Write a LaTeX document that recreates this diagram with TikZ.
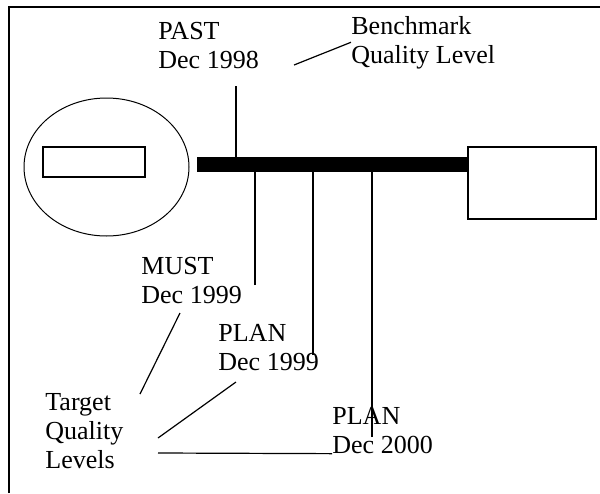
\documentclass[tikz,border=0pt]{standalone}
\usepackage{fontspec}
\setmainfont{Liberation Serif}
\usetikzlibrary{positioning,shapes.geometric}

\begin{document}
\begin{tikzpicture}[x=0.5pt, y=-0.5pt, font=\fontsize{13}{14.5}\selectfont, lbl/.style={align=left, inner sep=0pt, anchor=base west}, box/.style={draw, line width=0.6pt, inner sep=0pt}, lead/.style={line width=0.6pt}]
		\useasboundingbox (0,0) rectangle (600,493);
		\draw[line width=1.1pt] (9,493) -- (9,7) -- (600,7);
		\node[box, ellipse, line width=0.5pt, minimum width=82.5pt, minimum height=69pt] (oval) at (106.5,167) {};
		\node[box, minimum width=51pt, minimum height=15pt] (slot) at (94,162) {};
		\node[fill, inner sep=0pt, minimum width=135.5pt, minimum height=7.5pt] (bar) at (332.5,164.5) {};
		\node[box, minimum width=64pt, minimum height=36pt] (target) at (532,183) {};
		\node[lbl] (past) at (158,68) {PAST\\Dec 1998};
		\node[lbl] (bench) at (351,63) {Benchmark\\Quality Level};
		\node[lbl] (must) at (141,303) {MUST\\Dec 1999};
		\node[lbl] (planone) at (218,370) {PLAN\\Dec 1999};
		\node[lbl] (plantwo) at (332,453) {PLAN\\Dec 2000};
		\node[lbl] (levels) at (45,468) {Target\\Quality\\Levels};
		\coordinate (pasttip) at (236,86);
		\coordinate (musttip) at (255,285);
		\coordinate (planonetip) at (313,355);
		\coordinate (plantwotip) at (372,437);
		\draw[lead] (pasttip) -- (pasttip |- bar.north);
		\draw[lead] (musttip) -- (musttip |- bar.south);
		\draw[lead] (planonetip) -- (planonetip |- bar.south);
		\draw[lead] (plantwotip) -- (plantwotip |- bar.south);
		\coordinate (benchtail) at (294,65);
		\coordinate (musttail) at (180,313);
		\coordinate (planonetail) at (236,382);
		\coordinate (levelsa) at (140,394);
		\coordinate (levelsb) at (158,438);
		\coordinate (levelsc) at (158,453);
		\draw[lead] (benchtail) -- (bench.west);
		\draw[lead] (musttail) -- (levelsa);
		\draw[lead] (planonetail) -- (levelsb);
		\draw[lead] (levelsc) -- (plantwo.south west);
	\end{tikzpicture}
\end{document}
